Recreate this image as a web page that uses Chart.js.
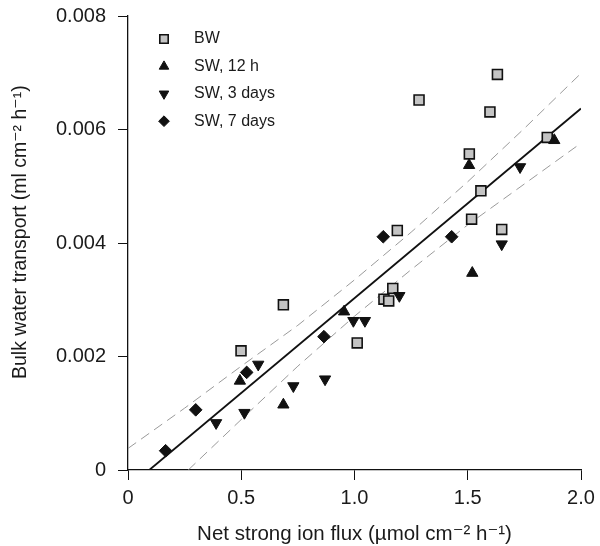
<!DOCTYPE html>
<html><head><meta charset="utf-8">
<script src="https://cdn.jsdelivr.net/npm/chart.js@4.4.0/dist/chart.umd.min.js"></script>
<style>html,body{margin:0;padding:0;background:#fff}#wrap{width:600px;height:546px}</style>
</head><body><div id="wrap"><canvas id="c" width="600" height="546"></canvas></div>
<script>
// ---- data ----
const seriesNames = ['BW', 'SW, 12 h', 'SW, 3 days', 'SW, 7 days'];

const bwX = [1.631, 1.285, 1.598, 1.851, 1.507, 1.558, 1.517, 1.650, 1.189, 1.169, 1.130, 1.151, 0.686, 1.012, 0.499];
const bwY = [0.00697, 0.00652, 0.00631, 0.00586, 0.00557, 0.00492, 0.00442, 0.00424, 0.00422, 0.00320, 0.00301, 0.00298, 0.00291, 0.00224, 0.00210];

const sw12X = [1.882, 1.506, 1.520, 0.954, 0.494, 0.686];
const sw12Y = [0.00581, 0.00537, 0.00347, 0.00279, 0.00157, 0.00115];

const sw3X = [1.731, 1.650, 1.198, 0.995, 1.046, 0.575, 0.730, 0.870, 0.514, 0.389];
const sw3Y = [0.00534, 0.00398, 0.00307, 0.00263, 0.00263, 0.00186, 0.00148, 0.00160, 0.00101, 0.00083];

const sw7X = [1.127, 1.429, 0.865, 0.524, 0.299, 0.166];
const sw7Y = [0.00411, 0.00411, 0.00235, 0.00172, 0.00106, 0.00034];

const fitX = [0.094, 2.0];
const fitY = [0, 0.00637];

const upperX = [0, 0.25, 0.5, 0.75, 1.0, 1.25, 1.5, 1.75, 2.0];
const upperY = [0.00038, 0.00109, 0.00183, 0.00255, 0.00335, 0.00419, 0.00508, 0.00602, 0.00699];

const lowerX = [0.266, 0.5, 0.75, 1.0, 1.25, 1.5, 1.75, 2.0];
const lowerY = [0, 0.00089, 0.00183, 0.00271, 0.00353, 0.00432, 0.00504, 0.00576];

const xTickLabels = ['0', '0.5', '1.0', '1.5', '2.0'];
const yTickLabels = ['0', '0.002', '0.004', '0.006', '0.008'];

const xTitle = 'Net strong ion flux (\u00B5mol cm\u207B\u00B2 h\u207B\u00B9)';
const yTitle = '    Bulk water transport (ml cm\u207B\u00B2 h\u207B\u00B9)';

// ---- helpers ----
const pts = (xs, ys) => xs.map((x, i) => ({x: x, y: ys[i]}));
const FONT = "'Liberation Sans', Arial, 'DejaVu Sans', sans-serif";

const markerStyles = [
  {pointStyle: 'rect', radius: 7, rotation: 0, bg: '#c4c4c4', border: '#111', bw: 1.6},
  {pointStyle: 'triangle', radius: 6.5, rotation: 0, bg: '#111', border: '#111', bw: 1},
  {pointStyle: 'triangle', radius: 6.5, rotation: 180, bg: '#111', border: '#111', bw: 1},
  {pointStyle: 'rectRot', radius: 6.3, rotation: 0, bg: '#111', border: '#111', bw: 1}
];
const seriesData = [pts(bwX, bwY), pts(sw12X, sw12Y), pts(sw3X, sw3Y), pts(sw7X, sw7Y)];

const scatterSets = seriesNames.map((name, i) => ({
  type: 'scatter',
  label: name,
  data: seriesData[i],
  pointStyle: markerStyles[i].pointStyle,
  rotation: markerStyles[i].rotation,
  pointRadius: markerStyles[i].radius,
  pointHoverRadius: markerStyles[i].radius,
  backgroundColor: markerStyles[i].bg,
  borderColor: markerStyles[i].border,
  pointBorderWidth: markerStyles[i].bw,
  showLine: false,
  order: 4 - i
}));

const lineSet = (data, color, width, dash, order) => ({
  type: 'line',
  label: '_line',
  data: data,
  borderColor: color,
  borderWidth: width,
  borderDash: dash,
  pointRadius: 0,
  pointHoverRadius: 0,
  fill: false,
  tension: 0,
  showLine: true,
  order: order
});

// legend drawn inside the plot area
const insideLegend = {
  id: 'insideLegend',
  afterDatasetsDraw(chart) {
    const ctx = chart.ctx;
    const x0 = 164, textX = 194, y0 = 39, dy = 27.4;
    ctx.save();
    seriesNames.forEach((name, i) => {
      const m = markerStyles[i];
      const y = y0 + i * dy;
      ctx.fillStyle = m.bg;
      ctx.strokeStyle = m.border;
      ctx.lineWidth = m.bw;
      Chart.helpers.drawPoint(ctx, {pointStyle: m.pointStyle, radius: m.radius * 0.85, rotation: m.rotation, borderWidth: m.bw}, x0, y);
      ctx.fillStyle = '#1a1a1a';
      ctx.font = '16px ' + FONT;
      ctx.textBaseline = 'middle';
      ctx.textAlign = 'left';
      ctx.fillText(name, textX, y);
    });
    ctx.restore();
  }
};

const axisCommon = {
  grid: {display: true, drawOnChartArea: false, drawTicks: true, tickLength: 10, color: '#111', lineWidth: 1},
  border: {display: true, color: '#111', width: 1.3}
};

new Chart(document.getElementById('c'), {
  data: {
    datasets: [
      ...scatterSets,
      lineSet(pts(fitX, fitY), '#111', 1.8, [], 10),
      lineSet(pts(upperX, upperY), '#9a9a9a', 1, [10, 6], 11),
      lineSet(pts(lowerX, lowerY), '#9a9a9a', 1, [10, 6], 12)
    ]
  },
  options: {
    responsive: false,
    devicePixelRatio: 1,
    animation: false,
    events: [],
    layout: {padding: {top: 16, right: 19, left: 0, bottom: 0}},
    plugins: {legend: {display: false}, tooltip: {enabled: false}},
    scales: {
      x: {
        type: 'linear', position: 'bottom', min: 0, max: 2,
        ...axisCommon,
        ticks: {stepSize: 0.5, padding: 6, color: '#1a1a1a', font: {family: FONT, size: 20},
          callback: (v, i) => xTickLabels[i]},
        title: {display: true, text: xTitle, color: '#1a1a1a', font: {family: FONT, size: 20.5, lineHeight: 1}, padding: {top: 0, bottom: 1}},
        afterFit(s) { s.height = 76; s.paddingLeft = 0; s.paddingRight = 0; }
      },
      y: {
        type: 'linear', position: 'left', min: 0, max: 0.008,
        ...axisCommon,
        ticks: {stepSize: 0.002, padding: 12, color: '#1a1a1a', font: {family: FONT, size: 20},
          callback: (v, i) => yTickLabels[i]},
        title: {display: true, text: yTitle, color: '#1a1a1a', font: {family: FONT, size: 19.5, lineHeight: 1}, padding: {top: 11, bottom: 0}},
        afterFit(s) { s.width = 128; s.paddingTop = 0; s.paddingBottom = 0; }
      }
    }
  },
  plugins: [insideLegend]
});
</script>
</body></html>
